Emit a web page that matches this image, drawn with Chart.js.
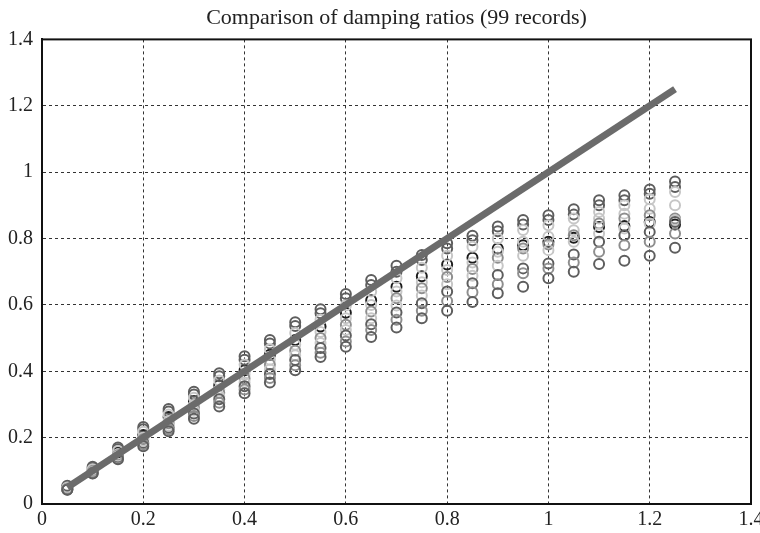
<!DOCTYPE html>
<html>
<head>
<meta charset="utf-8">
<script src="https://cdn.jsdelivr.net/npm/chart.js@4.4.1/dist/chart.umd.min.js"></script>
<style>
html,body{margin:0;padding:0;background:#fff;}
#wrap{width:760px;height:533px;position:relative;}
</style>
</head>
<body>
<div id="wrap"><canvas id="c" width="760" height="533"></canvas></div>
<script>
const titleText = "Comparison of damping ratios (99 records)";
const xs = [0.05,0.1,0.15,0.2,0.25,0.3,0.35,0.4,0.45,0.5,0.55,0.6,0.65,0.7,0.75,0.8,0.85,0.9,0.95,1.0,1.05,1.1,1.15,1.2,1.25];
const xTicks = [0,0.2,0.4,0.6,0.8,1,1.2,1.4];
const yTicks = [0,0.2,0.4,0.6,0.8,1,1.2,1.4];
const refLineX = [0.05, 1.25];
const refLineY = [0.05, 1.25];

const s1  = [.055,.112,.170,.232,.286,.338,.394,.445,.494,.548,.587,.633,.675,.718,.750,.786,.808,.836,.856,.870,.888,.915,.930,.948,.972];
const s2  = [.052,.108,.165,.225,.279,.330,.385,.435,.484,.536,.575,.620,.660,.700,.735,.770,.795,.822,.842,.856,.872,.900,.915,.935,.955];
const s3  = [.050,.105,.160,.218,.270,.320,.372,.420,.466,.515,.555,.598,.640,.680,.712,.748,.775,.800,.826,.840,.860,.880,.900,.918,.940];
const s4  = [.049,.101,.155,.208,.262,.310,.358,.403,.450,.494,.535,.576,.614,.655,.686,.722,.742,.770,.780,.790,.802,.835,.838,.850,.842];
const s5  = [.047,.099,.150,.200,.250,.298,.345,.390,.435,.480,.518,.560,.600,.640,.668,.705,.728,.760,.790,.805,.825,.860,.875,.890,.900];
const s6  = [.046,.097,.147,.195,.243,.290,.335,.378,.420,.462,.500,.540,.580,.620,.650,.684,.708,.742,.770,.782,.810,.845,.860,.870,.860];
const s7  = [.045,.096,.144,.190,.236,.281,.325,.366,.405,.448,.485,.524,.560,.598,.628,.662,.688,.718,.748,.765,.790,.815,.830,.845,.855];
const s8  = [.044,.094,.140,.184,.230,.273,.316,.355,.392,.434,.470,.508,.542,.577,.605,.640,.665,.690,.710,.725,.752,.790,.810,.820,.850];
const s9  = [.044,.093,.138,.180,.225,.265,.305,.345,.380,.418,.456,.490,.524,.555,.582,.612,.638,.662,.695,.710,.728,.760,.780,.790,.815];
const s10 = [.043,.092,.135,.174,.219,.257,.294,.334,.366,.403,.443,.474,.503,.532,.560,.582,.609,.635,.655,.680,.700,.723,.733,.748,.772];

const DARK = '#5e5e5e', BLACK = '#1c1c1c', LIGHT = '#c6c6c6', MID = '#8e8e8e';
const seriesDefs = [
  {data: s10, color: DARK},
  {data: s9, color: MID},
  {data: s8, color: DARK},
  {data: s7, color: LIGHT},
  {data: s6, color: MID},
  {data: s5, color: LIGHT},
  {data: s3, color: LIGHT},
  {data: s2, color: DARK},
  {data: s1, color: DARK},
  {data: s4, color: BLACK}
];

const FONT = "'Liberation Serif', 'DejaVu Serif', serif";

const datasets = [{
  type: 'line',
  data: refLineX.map((x, i) => ({x: x, y: refLineY[i]})),
  borderColor: '#6b6b6b',
  borderWidth: 7,
  pointRadius: 0,
  fill: false,
  order: 0
}];
seriesDefs.forEach((s, k) => {
  datasets.push({
    type: 'scatter',
    data: xs.map((x, i) => ({x: x, y: s.data[i]})),
    borderColor: s.color,
    backgroundColor: 'rgba(0,0,0,0)',
    pointRadius: 5,
    pointBorderWidth: 2,
    order: 1 + k
  });
});

const boxPlugin = {
  id: 'box',
  afterDraw(chart) {
    const {ctx, chartArea: a} = chart;
    ctx.save();
    ctx.strokeStyle = '#111';
    ctx.lineWidth = 2;
    ctx.strokeRect(a.left, a.top, a.right - a.left, a.bottom - a.top);
    ctx.restore();
  }
};

new Chart(document.getElementById('c'), {
  data: {datasets: datasets},
  options: {
    responsive: false,
    animation: false,
    layout: {padding: {top: 0, right: 9, left: 0, bottom: 0}},
    plugins: {
      legend: {display: false},
      tooltip: {enabled: false},
      title: {
        display: true,
        text: titleText,
        fullSize: false,
        color: '#222',
        font: {family: FONT, size: 22, weight: 'normal'},
        lineHeight: 1.2,
        padding: {top: 5, bottom: 8}
      }
    },
    scales: {
      x: {
        type: 'linear',
        min: 0, max: 1.4,
        afterBuildTicks: (s) => { s.ticks = xTicks.map(v => ({value: v})); },
        afterFit: (s) => { s.height = 29; s.paddingLeft = 0; s.paddingRight = 0; },
        ticks: {
          color: '#222',
          font: {family: FONT, size: 20},
          padding: 4,
          maxRotation: 0,
          callback: (v) => String(v)
        },
        grid: {color: '#333', lineWidth: 1, drawTicks: false},
        border: {display: true, color: '#111', width: 2, dash: [3, 3]}
      },
      y: {
        type: 'linear',
        min: 0, max: 1.4,
        afterBuildTicks: (s) => { s.ticks = yTicks.map(v => ({value: v})); },
        afterFit: (s) => { s.width = 42; s.paddingTop = 0; s.paddingBottom = 0; },
        ticks: {
          color: '#222',
          font: {family: FONT, size: 20},
          padding: 9,
          callback: (v) => String(v)
        },
        grid: {color: '#333', lineWidth: 1, drawTicks: false},
        border: {display: true, color: '#111', width: 2, dash: [3, 3]}
      }
    }
  },
  plugins: [boxPlugin]
});
</script>
</body>
</html>
